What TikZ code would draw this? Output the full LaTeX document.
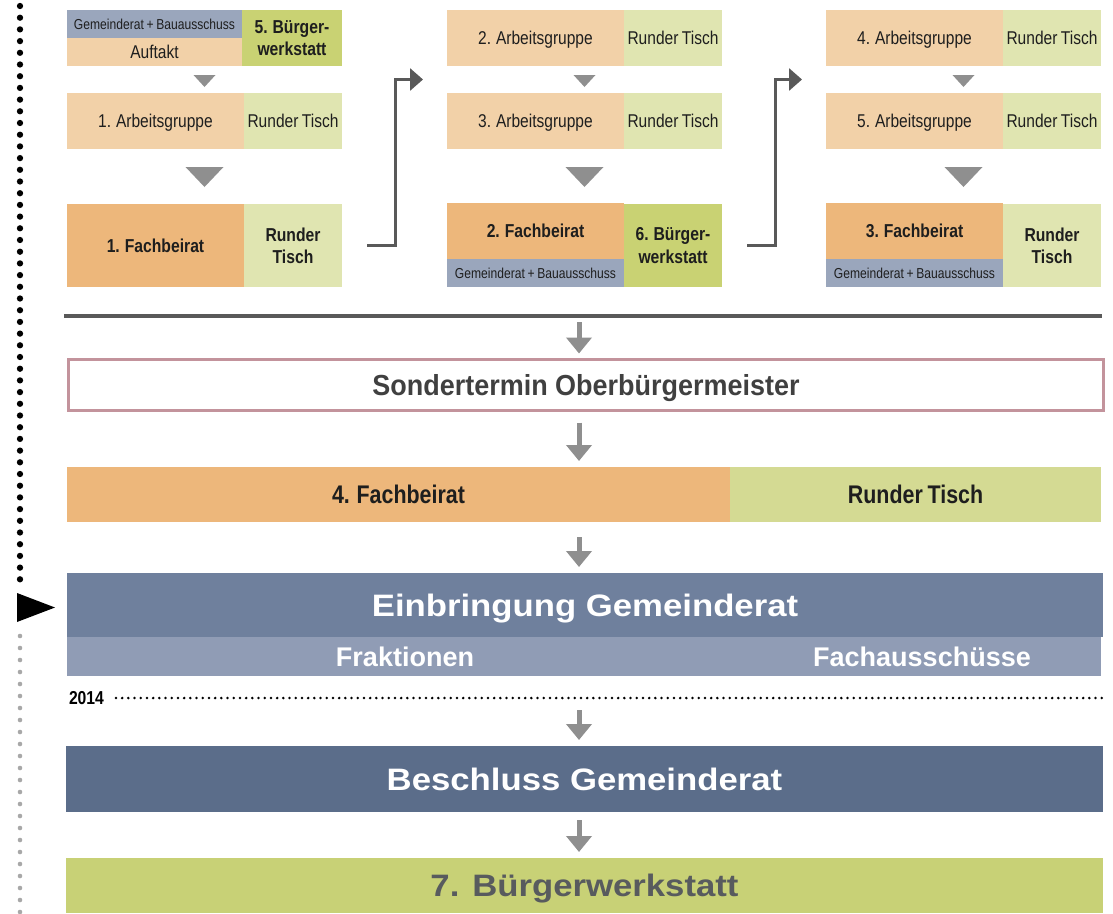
\documentclass[tikz,border=0pt]{standalone}
\usepackage{fontspec}
\setmainfont{Liberation Sans}
\newfontfamily\schmal{Liberation Sans}[FakeStretch=0.84, WordSpace=0.8]
\newfontfamily\mittel{Liberation Sans}[FakeStretch=0.93]
\newfontfamily\breit{Liberation Sans}[FakeStretch=1.12]
\usetikzlibrary{arrows.meta, calc}

\definecolor{hellorange}{HTML}{F2D1A8}
\definecolor{orange}{HTML}{EDB77B}
\definecolor{hellgruen}{HTML}{E0E5B1}
\definecolor{gruen}{HTML}{C9D273}
\definecolor{gruenrt}{HTML}{D4DA93}
\definecolor{gruen7}{HTML}{C8D176}
\definecolor{graublau}{HTML}{9AA6BC}
\definecolor{blaueinbr}{HTML}{6F809D}
\definecolor{blauband}{HTML}{909CB5}
\definecolor{blaubeschl}{HTML}{5B6D8A}
\definecolor{pfeilgrau}{HTML}{8F8F8F}
\definecolor{dunkelgrau}{HTML}{595959}
\definecolor{rosa}{HTML}{C3939C}
\definecolor{textdunkel}{HTML}{1E1E1E}
\definecolor{textgrau}{HTML}{404040}
\definecolor{text7}{HTML}{585B5E}
\definecolor{punktgrau}{HTML}{A8A8A8}

\begin{document}
\begin{tikzpicture}[x=1pt, y=-1pt,
    % --- Stile ---
    feld/.style={rectangle, anchor=north west, inner sep=0pt, outer sep=0pt, align=center,
        text depth=0pt, text=textdunkel},
    ag/.style={feld, fill=hellorange, minimum width=177pt, minimum height=56pt,
        font=\schmal\fontsize{18.5}{22.5}\selectfont},
    rt/.style={feld, fill=hellgruen, minimum width=98pt, minimum height=56pt,
        font=\schmal\fontsize{18.5}{22.5}\selectfont},
    gr/.style={feld, fill=graublau, minimum width=177pt, minimum height=28pt,
        font=\schmal\fontsize{14.4}{16}\selectfont},
    fb/.style={feld, fill=orange, minimum width=177pt, minimum height=56pt,
        font=\schmal\bfseries\fontsize{18.7}{22.5}\selectfont},
    rtb/.style={rt, minimum height=83pt, font=\schmal\bfseries\fontsize{18.7}{22.5}\selectfont},
    bw/.style={rtb, fill=gruen},
    balken/.style={feld, minimum width=1037pt, text=white,
        font=\breit\bfseries\fontsize{31}{36}\selectfont},
    band/.style={feld, fill=blauband, minimum height=39pt, text=white,
        font=\bfseries\fontsize{27}{30}\selectfont},
    % Dreiecke zwischen den Feldern
    dreieck/.style={fill=pfeilgrau},
    % Pfeile
    pfeil/.style={draw=pfeilgrau, line width=5pt, -{Triangle[width=25pt, length=16pt]}, shorten >=6pt},
    knick/.style={draw=dunkelgrau, line width=3pt, -{Triangle[width=22pt, length=13pt]}},
    % Punktlinien
    punkte/.style={line cap=round, dash pattern=on 0pt off #1},
]
    \useasboundingbox (0,0) rectangle (1113,913);

    % =========================================
    % Spalte 1
    % =========================================
    \begin{scope}[shift={(0,0)}]
        \node[gr, minimum width=175pt] (gb1) at (67,10) {Gemeinderat + Bauausschuss};
        \node[ag, minimum width=175pt, minimum height=28pt] (auf) at (67,38) {Auftakt};
        \node[bw, minimum width=100pt, minimum height=56pt] (bw5) at (242,10) {5. Bürger-\\werkstatt};

        \node[ag] (ag1) at (67,93) {1. Arbeitsgruppe};
        \node[rt] (rt1) at (244,93) {Runder Tisch};

        \node[fb, minimum height=83pt] (fb1) at (67,204) {1. Fachbeirat};
        \node[rtb] (rtc1) at (244,204) {Runder\\Tisch};

        % Dreiecke
        \fill[dreieck] ($(auf.south west)!.5!(bw5.south east)+(-11,9)$) -- ++(22,0) -- ++(-11,12) -- cycle;
        \fill[dreieck] ($(ag1.south west)!.5!(rt1.south east)+(-19,18)$) -- ++(38,0) -- ++(-19,20) -- cycle;
    \end{scope}

    % =========================================
    % Spalte 2
    % =========================================
    \begin{scope}[shift={(380,0)}]
        \node[ag] (ag2) at (67,10) {2. Arbeitsgruppe};
        \node[rt] (rt2) at (244,10) {Runder Tisch};

        \node[ag] (ag3) at (67,93) {3. Arbeitsgruppe};
        \node[rt] (rt3) at (244,93) {Runder Tisch};

        \node[fb] (fb2) at (67,203) {2. Fachbeirat};
        \node[gr] (gb2) at (67,259) {Gemeinderat + Bauausschuss};
        \node[bw] (bw6) at (244,204) {6. Bürger-\\werkstatt};

        % Dreiecke
        \fill[dreieck] ($(ag2.south west)!.5!(rt2.south east)+(-11,9)$) -- ++(22,0) -- ++(-11,12) -- cycle;
        \fill[dreieck] ($(ag3.south west)!.5!(rt3.south east)+(-19,18)$) -- ++(38,0) -- ++(-19,20) -- cycle;
    \end{scope}

    % =========================================
    % Spalte 3
    % =========================================
    \begin{scope}[shift={(759,0)}]
        \node[ag] (ag4) at (67,10) {4. Arbeitsgruppe};
        \node[rt] (rt4) at (244,10) {Runder Tisch};

        \node[ag] (ag5) at (67,93) {5. Arbeitsgruppe};
        \node[rt] (rt5) at (244,93) {Runder Tisch};

        \node[fb] (fb3) at (67,203) {3. Fachbeirat};
        \node[gr] (gb3) at (67,259) {Gemeinderat + Bauausschuss};
        \node[rtb] (rtc3) at (244,204) {Runder\\Tisch};

        % Dreiecke
        \fill[dreieck] ($(ag4.south west)!.5!(rt4.south east)+(-11,9)$) -- ++(22,0) -- ++(-11,12) -- cycle;
        \fill[dreieck] ($(ag5.south west)!.5!(rt5.south east)+(-19,18)$) -- ++(38,0) -- ++(-19,20) -- cycle;
    \end{scope}

    % --- Knickpfeile zur naechsten Spalte ---
    \draw[knick] ([xshift=25pt]rtc1.east) -- ++(28,0) |- ([xshift=-24pt]$(ag2.south west)!.5!(ag3.north west)$);
    \draw[knick] ([xshift=25pt]bw6.east) -- ++(28,0) |- ([xshift=-24pt]$(ag4.south west)!.5!(ag5.north west)$);

    % --- Trennlinie ---
    \coordinate (trennL) at (64,316);
    \coordinate (trennR) at (1102,316);
    \draw[dunkelgrau, line width=4pt] (trennL) -- (trennR);
    \coordinate (px) at ($(trennL)!.5!(trennR)+(-4,0)$);

    % =========================================
    % Untere Balken
    % =========================================
    \node[feld, draw=rosa, line width=3pt, minimum width=1035pt, minimum height=51pt,
        text=textgrau, font=\mittel\bfseries\fontsize{29}{32}\selectfont] (sonder) at (68.5,359.5) {Sondertermin Oberbürgermeister};

    \node[fb, minimum width=663pt, minimum height=55pt, font=\schmal\bfseries\fontsize{25.5}{28}\selectfont] (fb4) at (67,467) {4. Fachbeirat};
    \node[rt, fill=gruenrt, minimum width=371pt, minimum height=55pt, font=\schmal\bfseries\fontsize{25.5}{28}\selectfont] (rt6) at (730,467) {Runder Tisch};

    \node[balken, fill=blaueinbr, minimum width=1036pt, minimum height=64pt] (einbr) at (67,573) {Einbringung Gemeinderat};
    \node[band, minimum width=676pt] (frakt) at (67,637) {Fraktionen};
    \node[band, minimum width=358pt] (fachaus) at (743,637) {Fachausschüsse};

    % Jahresmarke
    \node[feld, anchor=west, text=black, font=\schmal\bfseries\fontsize{18.7}{20}\selectfont] (jahr) at (69,698) {2014};
    \coordinate (jahrR) at (1105,698);
    \draw[punkte=6.2pt, line width=2.8pt, black] ([xshift=12pt]jahr.east) -- (jahrR);

    \node[balken, fill=blaubeschl, minimum height=66pt] (beschl) at (66,746) {Beschluss Gemeinderat};
    \node[balken, fill=gruen7, text=text7, minimum height=55pt] (bw7) at (66,858) {7. Bürgerwerkstatt};

    % --- Pfeile (grau) ---
    \draw[pfeil, shorten <=6pt]  (px) -- (px |- sonder.north);
    \draw[pfeil, shorten <=12pt] (px |- sonder.south) -- (px |- fb4.north);
    \draw[pfeil, shorten <=15pt] (px |- fb4.south) -- (px |- einbr.north);
    \draw[pfeil, shorten <=12pt] (px |- jahrR) -- (px |- beschl.north);
    \draw[pfeil, shorten <=8pt]  (px |- beschl.south) -- (px |- bw7.north);

    % --- Zeitachse links ---
    \draw[punkte=11.7pt, line width=6.3pt, black] (20,6) -- (20,583);
    \draw[punkte=12pt, line width=4.6pt, punktgrau] (20,636) -- (20,913);
    \coordinate (jetzt) at (55,607.5);
    \fill[black] (17,593) -- (jetzt) -- (17,622) -- cycle;

\end{tikzpicture}
\end{document}
